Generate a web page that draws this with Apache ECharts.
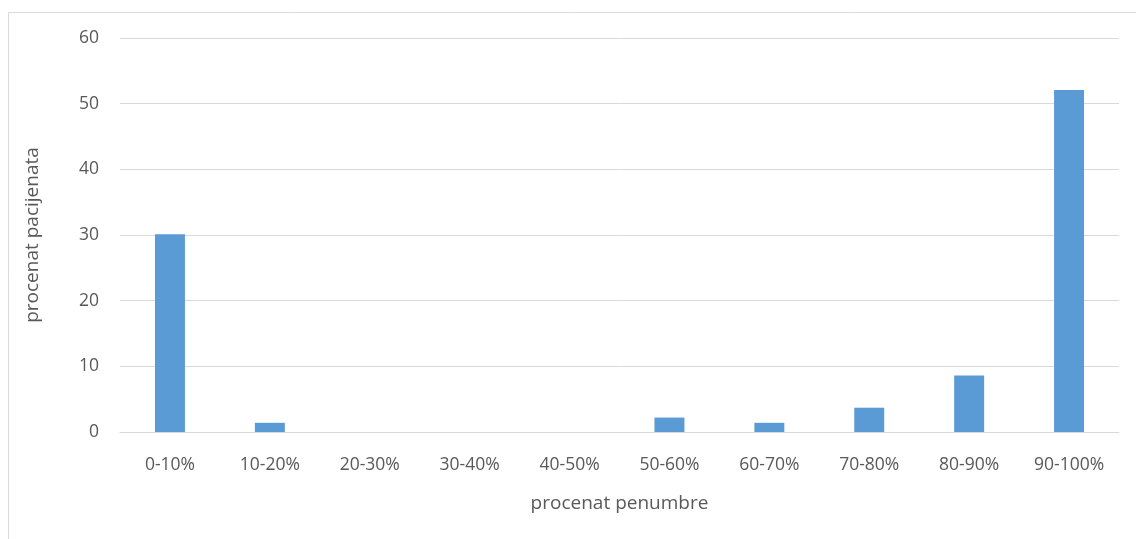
<!DOCTYPE html>
<html>
<head>
<meta charset="utf-8">
<script src="https://cdn.jsdelivr.net/npm/echarts@6/dist/echarts.min.js"></script>
<style>
  html, body { margin: 0; padding: 0; background: #fff; }
  #chart { width: 1136px; height: 539px; }
</style>
</head>
<body>
<div id="chart"></div>
<script>
// Share of patients by penumbra percentage range
const categories = ['0-10%', '10-20%', '20-30%', '30-40%', '40-50%', '50-60%', '60-70%', '70-80%', '80-90%', '90-100%'];
const patientShare = [30.1, 1.4, 0, 0, 0, 2.2, 1.4, 3.7, 8.6, 52.1];
const yTicks = { min: 0, max: 60, interval: 10 };

const textColor = '#595959';
const fontFamily = '"Open Sans", sans-serif';

const chart = echarts.init(document.getElementById('chart'));
chart.setOption({
  animation: false,
  textStyle: { fontFamily: fontFamily },
  graphic: [{
    type: 'rect',
    shape: { x: 8.5, y: 12.5, width: 1140, height: 540 },
    style: { fill: 'none', stroke: '#d9d9d9', lineWidth: 1 },
    silent: true
  }],
  grid: { left: 120, right: 17, top: 38, bottom: 107 },
  xAxis: {
    type: 'category',
    data: categories,
    name: 'procenat penumbre',
    nameLocation: 'middle',
    nameGap: 62,
    nameTextStyle: { color: textColor, fontSize: 19, fontFamily: fontFamily },
    axisLine: { lineStyle: { color: '#d9d9d9', width: 1 } },
    axisTick: { show: false },
    axisLabel: { color: textColor, fontSize: 17.5, margin: 24, fontFamily: fontFamily }
  },
  yAxis: {
    type: 'value',
    min: yTicks.min,
    max: yTicks.max,
    interval: yTicks.interval,
    name: 'procenat pacijenata',
    nameLocation: 'middle',
    nameGap: 78,
    nameRotate: 90,
    nameTextStyle: { color: textColor, fontSize: 19, fontFamily: fontFamily },
    axisLine: { show: false },
    axisTick: { show: false },
    axisLabel: { color: textColor, fontSize: 17.5, margin: 21, fontFamily: fontFamily },
    splitLine: { lineStyle: { color: '#d9d9d9', width: 1 } }
  },
  series: [{
    type: 'bar',
    data: patientShare,
    barWidth: '30%',
    itemStyle: { color: '#5b9bd5' }
  }]
});
</script>
</body>
</html>
